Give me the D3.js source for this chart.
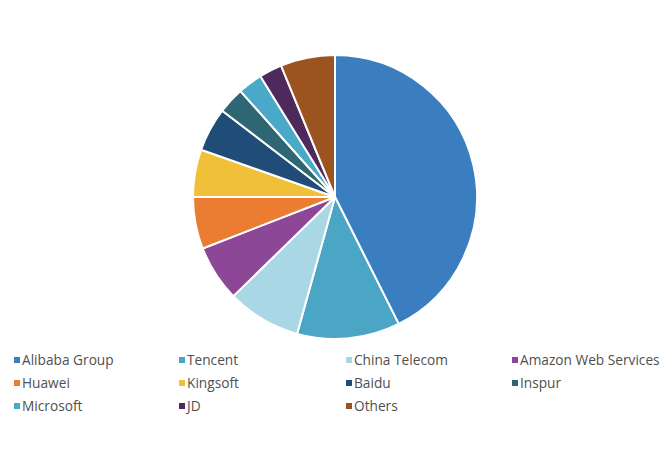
<!DOCTYPE html>
<html>
<head>
<meta charset="utf-8">
<script src="https://cdn.jsdelivr.net/npm/d3@7"></script>
<style>
  body { margin: 0; background: #fff; }
  svg { display: block; }
  .legend text { font-family: "Open Sans", "Noto Sans", sans-serif; font-size: 13.7px; fill: #505050; }
</style>
</head>
<body>
<div id="chart"></div>
<script>
// market share (%)
const vendors = ['Alibaba Group', 'Tencent', 'China Telecom', 'Amazon Web Services',
    'Huawei', 'Kingsoft', 'Baidu', 'Inspur', 'Microsoft', 'JD', 'Others'];
const shares = [42.6, 11.7, 8.4, 6.4, 5.9, 5.4, 5.0, 3.0, 2.8, 2.6, 6.2];
const colors = ['#3a7ebf', '#4ba6c6', '#a9d7e6', '#8c4797', '#ea7d31', '#f1c039',
    '#1f4d78', '#2f6673', '#4aa8c9', '#4e2a5c', '#9b5420'];

const width = 664, height = 463;
const cx = 335, cy = 197, radius = 142;

const svg = d3.select('#chart').append('svg')
    .attr('width', width)
    .attr('height', height);

const data = vendors.map((v, i) => ({ name: v, value: shares[i] }));
const color = d3.scaleOrdinal(vendors, colors);

const pie = d3.pie().value(d => d.value).sort(null);
const arc = d3.arc().innerRadius(0).outerRadius(radius);

svg.append('g')
    .attr('transform', `translate(${cx},${cy})`)
    .selectAll('path')
    .data(pie(data))
    .join('path')
    .attr('d', arc)
    .attr('fill', d => color(d.data.name))
    .attr('stroke', '#fff')
    .attr('stroke-width', 2)
    .attr('stroke-linejoin', 'round');

// legend: 4 columns, row-major
const colX = [14, 179, 346, 512];
const rowY = [360, 383, 406];
const legend = svg.append('g').attr('class', 'legend')
    .selectAll('g')
    .data(vendors)
    .join('g')
    .attr('transform', (d, i) => `translate(${colX[i % 4]},${rowY[Math.floor(i / 4)]})`);

legend.append('rect')
    .attr('x', 0).attr('y', -3)
    .attr('width', 6).attr('height', 6)
    .attr('fill', d => color(d));

legend.append('text')
    .attr('x', 8)
    .attr('dy', '0.35em')
    .text(d => d);
</script>
</body>
</html>
